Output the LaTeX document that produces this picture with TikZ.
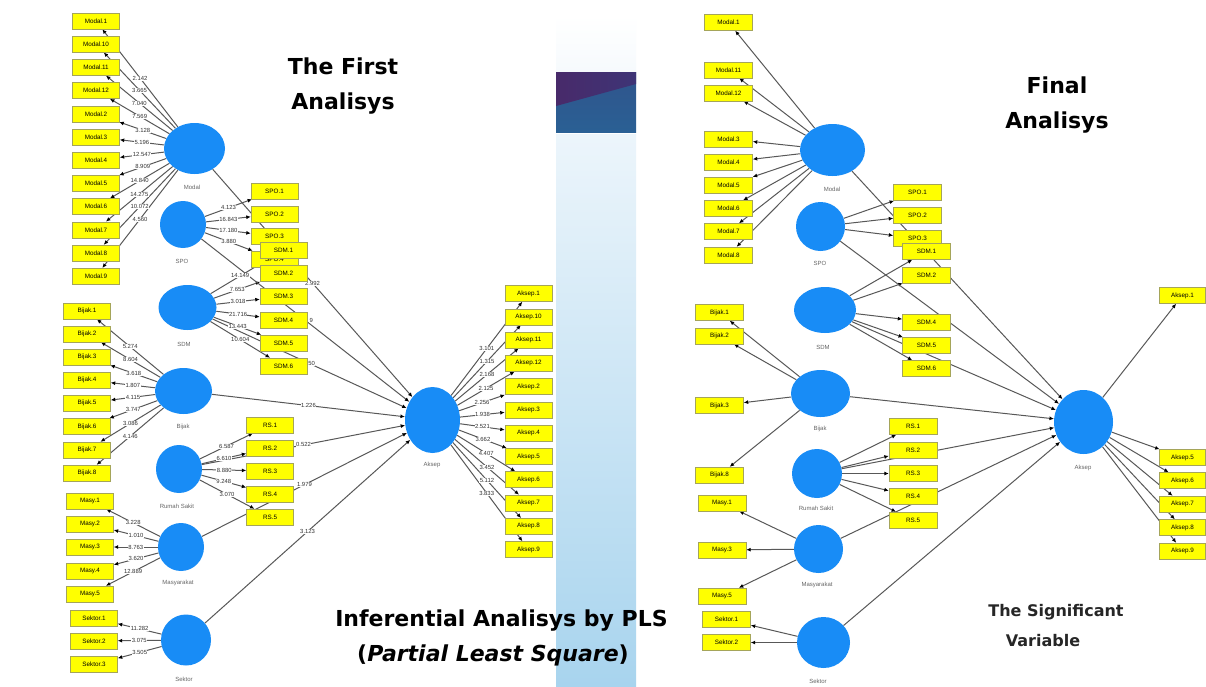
\documentclass[tikz,border=0pt]{standalone}
\usepackage{fontspec}
\setmainfont{Liberation Sans}
\newfontfamily\djv{DejaVu Sans}
\usetikzlibrary{shapes.geometric,arrows.meta,calc}
\pgfdeclarelayer{bg}
\pgfdeclarelayer{edges}
\pgfdeclarelayer{labs}
\pgfsetlayers{bg,edges,labs,main}
\definecolor{lvblue}{RGB}{24,140,246}
\definecolor{boxyellow}{RGB}{255,255,0}
\definecolor{boxedge}{RGB}{165,165,90}
\definecolor{linegray}{RGB}{88,88,88}
\definecolor{barlight}{RGB}{246,250,253}
\definecolor{bartop}{RGB}{236,245,251}
\definecolor{barbot}{RGB}{168,212,238}
\definecolor{bandpurple}{RGB}{72,42,106}
\definecolor{bandpurpleb}{RGB}{62,52,118}
\definecolor{bandblue}{RGB}{42,96,148}
\definecolor{bandblueb}{RGB}{48,84,140}
\tikzset{
  indl/.style={draw=boxedge, fill=boxyellow, line width=0.4pt, minimum width=47pt, minimum height=16pt, inner sep=0pt, font=\fontsize{6.3}{7}\selectfont},
  indr/.style={indl, minimum width=48pt},
  lv/.style={ellipse, fill=lvblue, inner sep=0pt},
  lvlab/.style={font=\fontsize{6}{7}\selectfont, text=black!60, inner sep=0pt},
  conn/.style={draw=linegray, line width=1pt, -{Latex[length=4.5pt,width=4pt,color=black]}},
  wl/.style={fill=white, inner sep=0.4pt, font=\fontsize{5.9}{6}\selectfont, text=black!80},
  bigtitle/.style={font=\djv\bfseries\fontsize{22}{26}\selectfont, anchor=base, inner sep=0pt},
  midtitle/.style={font=\djv\bfseries\fontsize{16}{19}\selectfont, anchor=base, inner sep=0pt, text=black!85},
}
\begin{document}
\begin{tikzpicture}[x=1pt,y=-1pt]
\useasboundingbox (0,0) rectangle (1206,686);
\begin{pgfonlayer}{bg}
\fill[white] (0,0) rectangle (1206,686);
\shade[top color=white, bottom color=barlight] (556,15) rectangle (636,72);
\shade[top color=bandblueb, bottom color=bandblue] (556,72) rectangle (636,132);
\shade[left color=bandpurple, right color=bandpurpleb] (556,72) -- (636,72) -- (636,84) -- (556,106) -- cycle;
\shade[top color=bartop, bottom color=barbot] (556,134) rectangle (636,686);
\end{pgfonlayer}

% ================= LEFT PANEL =================
\node[lv, minimum width=61pt, minimum height=51pt] (Lmodal) at (194.5,148.5) {};
\node[lv, minimum width=46pt, minimum height=47pt] (Lspo) at (183,224.5) {};
\node[lv, minimum width=58pt, minimum height=45pt] (Lsdm) at (187.5,307.5) {};
\node[lv, minimum width=57pt, minimum height=46pt] (Lbijak) at (183.5,391) {};
\node[lv, minimum width=46pt, minimum height=48pt] (Lrs) at (179,469) {};
\node[lv, minimum width=46pt, minimum height=48pt] (Lmasy) at (181,547) {};
\node[lv, minimum width=50pt, minimum height=51pt] (Lsek) at (186,640) {};
\node[lv, minimum width=55pt, minimum height=66pt] (Laksep) at (432.5,420) {};

\node[lvlab] (LtModal) at (192,187) {Modal};
\node[lvlab] (LtSpo) at (182,261) {SPO};
\node[lvlab] (LtSdm) at (184,344) {SDM};
\node[lvlab] (LtBijak) at (183,427) {Bijak};
\node[lvlab] (LtRs) at (177,506) {Rumah Sakit};
\node[lvlab] (LtMasy) at (178,583) {Masyarakat};
\node[lvlab] (LtSek) at (184,679) {Sektor};
\node[lvlab] (LtAksep) at (432,465) {Aksep};

\foreach \n/\t/\y in {m1/Modal.1/21,m10/Modal.10/44.2,m11/Modal.11/67.4,m12/Modal.12/90.6,m2/Modal.2/113.8,m3/Modal.3/137,m4/Modal.4/160.2,m5/Modal.5/183.4,m6/Modal.6/206.6,m7/Modal.7/229.8,m8/Modal.8/253,m9/Modal.9/276.2}
  \node[indl] (L\n) at (96,\y) {\t};
\foreach \n/\t/\y in {s1/SPO.1/191,s2/SPO.2/214,s3/SPO.3/236.5,s4/SPO.4/259}
  \node[indl] (L\n) at (274.5,\y) {\t};
\foreach \n/\t/\y in {d1/SDM.1/250,d2/SDM.2/273.5,d3/SDM.3/296.5,d4/SDM.4/320,d5/SDM.5/343,d6/SDM.6/366}
  \node[indl] (L\n) at (283.5,\y) {\t};
\foreach \n/\t/\y in {b1/Bijak.1/311,b2/Bijak.2/334,b3/Bijak.3/357,b4/Bijak.4/380,b5/Bijak.5/403,b6/Bijak.6/426.5,b7/Bijak.7/450,b8/Bijak.8/473}
  \node[indl] (L\n) at (87,\y) {\t};
\foreach \n/\t/\y in {r1/RS.1/425,r2/RS.2/448,r3/RS.3/471,r4/RS.4/494,r5/RS.5/517}
  \node[indl] (L\n) at (270,\y) {\t};
\foreach \n/\t/\y in {y1/Masy.1/501,y2/Masy.2/524,y3/Masy.3/547,y4/Masy.4/571,y5/Masy.5/594}
  \node[indl] (L\n) at (90,\y) {\t};
\foreach \n/\t/\y in {k1/Sektor.1/618,k2/Sektor.2/641,k3/Sektor.3/664.5}
  \node[indl] (L\n) at (94,\y) {\t};
\foreach \n/\t/\y in {a1/Aksep.1/293.5,a10/Aksep.10/316.8,a11/Aksep.11/340,a12/Aksep.12/363.3,a2/Aksep.2/386.6,a3/Aksep.3/409.8,a4/Aksep.4/433.1,a5/Aksep.5/456.4,a6/Aksep.6/479.6,a7/Aksep.7/502.9,a8/Aksep.8/526.2,a9/Aksep.9/549.5}
  \node[indl] (L\n) at (528.5,\y) {\t};

\begin{pgfonlayer}{edges}
\foreach \n in {m1,m10,m11,m12,m2,m3,m4,m5,m6,m7,m8,m9} \draw[conn] (Lmodal) -- (L\n);
\foreach \n in {s1,s2,s3,s4} \draw[conn] (Lspo) -- (L\n);
\foreach \n in {d1,d2,d3,d4,d5,d6} \draw[conn] (Lsdm) -- (L\n);
\foreach \n in {b1,b2,b3,b4,b5,b6,b7,b8} \draw[conn] (Lbijak) -- (L\n);
\foreach \n in {r1,r2,r3,r4,r5} \draw[conn] (Lrs) -- (L\n);
\foreach \n in {y1,y2,y3,y4,y5} \draw[conn] (Lmasy) -- (L\n);
\foreach \n in {k1,k2,k3} \draw[conn] (Lsek) -- (L\n);
\foreach \n in {a1,a10,a11,a12,a2,a3,a4,a5,a6,a7,a8,a9} \draw[conn] (Laksep) -- (L\n);
\foreach \s in {Lmodal,Lspo,Lsdm,Lbijak,Lrs,Lmasy,Lsek} \draw[conn] (\s) -- (Laksep);
\end{pgfonlayer}

\begin{pgfonlayer}{labs}
\foreach \n/\w in {m1/2.142,m10/3.665,m11/7.040,m12/7.569,m2/3.128,m3/5.196,m4/12.547,m5/8.909,m6/14.840,m7/14.275,m8/10.072,m9/4.560}
  \path (Lmodal) -- node[wl]{\w} (L\n);
\foreach \n/\w in {s1/4.123,s2/16.843,s3/17.180,s4/3.880}
  \path (Lspo) -- node[wl]{\w} (L\n);
\foreach \n/\w in {d1/14.149,d2/7.653,d3/3.018,d4/21.716,d5/13.443,d6/10.604}
  \path (Lsdm) -- node[wl]{\w} (L\n);
\foreach \n/\w in {b1/5.274,b2/8.604,b3/3.618,b4/1.807,b5/4.115,b6/3.747,b7/3.086,b8/4.146}
  \path (Lbijak) -- node[wl]{\w} (L\n);
\foreach \n/\w in {r1/6.587,r2/6.610,r3/8.880,r4/9.248,r5/3.070}
  \path (Lrs) -- node[wl]{\w} (L\n);
\foreach \n/\w in {y1/3.228,y2/1.010,y3/8.763,y4/3.620,y5/12.889}
  \path (Lmasy) -- node[wl]{\w} (L\n);
\foreach \n/\w in {k1/11.282,k2/3.075,k3/3.505}
  \path (Lsek) -- node[wl]{\w} (L\n);
\foreach \n/\w in {a1/3.101,a10/1.315,a11/2.168,a12/2.125,a2/2.256,a3/1.938,a4/2.521,a5/3.662,a6/4.407,a7/3.452,a8/5.112,a9/3.833}
  \path (Laksep) -- node[wl]{\w} (L\n);
\path (Lmodal) -- node[wl]{2.992} (Laksep);
\path (Lspo) -- node[wl,xshift=6pt]{9} (Laksep);
\path (Lsdm) -- node[wl,xshift=2pt]{50} (Laksep);
\path (Lbijak) -- node[wl]{1.226} (Laksep);
\path (Lrs) -- node[wl]{0.522} (Laksep);
\path (Lmasy) -- node[wl]{1.979} (Laksep);
\path (Lsek) -- node[wl]{3.123} (Laksep);
\end{pgfonlayer}

% ================= RIGHT PANEL =================
\node[lv, minimum width=65pt, minimum height=52pt] (Rmodal) at (832.5,150) {};
\node[lv, minimum width=49pt, minimum height=49pt] (Rspo) at (820.5,226.5) {};
\node[lv, minimum width=62pt, minimum height=46pt] (Rsdm) at (825,310) {};
\node[lv, minimum width=59pt, minimum height=47pt] (Rbijak) at (820.5,393.5) {};
\node[lv, minimum width=50pt, minimum height=49pt] (Rrs) at (817,473.5) {};
\node[lv, minimum width=49pt, minimum height=48pt] (Rmasy) at (818.5,549) {};
\node[lv, minimum width=53pt, minimum height=51pt] (Rsek) at (823.5,642.5) {};
\node[lv, minimum width=59pt, minimum height=64pt] (Raksep) at (1083.5,422) {};

\node[lvlab] (RtModal) at (832,189) {Modal};
\node[lvlab] (RtSpo) at (820,263) {SPO};
\node[lvlab] (RtSdm) at (823,347) {SDM};
\node[lvlab] (RtBijak) at (820,429) {Bijak};
\node[lvlab] (RtRs) at (816,508) {Rumah Sakit};
\node[lvlab] (RtMasy) at (817,585) {Masyarakat};
\node[lvlab] (RtSek) at (818,681) {Sektor};
\node[lvlab] (RtAksep) at (1083,468) {Aksep};

\foreach \n/\t/\y in {m1/Modal.1/22.5,m11/Modal.11/70,m12/Modal.12/93,m3/Modal.3/139,m4/Modal.4/162,m5/Modal.5/185,m6/Modal.6/208.5,m7/Modal.7/231.5,m8/Modal.8/255}
  \node[indr] (R\n) at (728.5,\y) {\t};
\foreach \n/\t/\y in {s1/SPO.1/192.5,s2/SPO.2/215.5,s3/SPO.3/238.5}
  \node[indr] (R\n) at (917.5,\y) {\t};
\foreach \n/\t/\y in {d1/SDM.1/251.5,d2/SDM.2/275,d4/SDM.4/322,d5/SDM.5/345.5,d6/SDM.6/368.5}
  \node[indr] (R\n) at (926.5,\y) {\t};
\foreach \n/\t/\y in {b1/Bijak.1/312.5,b2/Bijak.2/336,b3/Bijak.3/405.5,b8/Bijak.8/475}
  \node[indr] (R\n) at (719.5,\y) {\t};
\foreach \n/\t/\y in {r1/RS.1/426.5,r2/RS.2/450,r3/RS.3/473.5,r4/RS.4/496.5,r5/RS.5/520}
  \node[indr] (R\n) at (913,\y) {\t};
\foreach \n/\t/\y in {y1/Masy.1/503,y3/Masy.3/550,y5/Masy.5/596}
  \node[indr] (R\n) at (722,\y) {\t};
\foreach \n/\t/\y in {k1/Sektor.1/619.5,k2/Sektor.2/642.5}
  \node[indr] (R\n) at (726.5,\y) {\t};
\foreach \n/\t/\y in {a1/Aksep.1/295.5,a5/Aksep.5/457.5,a6/Aksep.6/480.5,a7/Aksep.7/504,a8/Aksep.8/527.5,a9/Aksep.9/551}
  \node[indl, minimum width=46pt] (R\n) at (1182.5,\y) {\t};

\begin{pgfonlayer}{edges}
\foreach \n in {m1,m11,m12,m3,m4,m5,m6,m7,m8} \draw[conn] (Rmodal) -- (R\n);
\foreach \n in {s1,s2,s3} \draw[conn] (Rspo) -- (R\n);
\foreach \n in {d1,d2,d4,d5,d6} \draw[conn] (Rsdm) -- (R\n);
\foreach \n in {b1,b2,b3,b8} \draw[conn] (Rbijak) -- (R\n);
\foreach \n in {r1,r2,r3,r4,r5} \draw[conn] (Rrs) -- (R\n);
\foreach \n in {y1,y3,y5} \draw[conn] (Rmasy) -- (R\n);
\foreach \n in {k1,k2} \draw[conn] (Rsek) -- (R\n);
\foreach \n in {a1,a5,a6,a7,a8,a9} \draw[conn] (Raksep) -- (R\n);
\foreach \s in {Rmodal,Rspo,Rsdm,Rbijak,Rrs,Rmasy,Rsek} \draw[conn] (\s) -- (Raksep);
\end{pgfonlayer}

% ================= TITLES =================
\node[bigtitle] (t1a) at (343,74) {The First};
\node[bigtitle] (t1b) at (343,109) {Analisys};
\node[bigtitle] (t2a) at (1057,93) {Final};
\node[bigtitle] (t2b) at (1057,128) {Analisys};
\node[bigtitle] (t3a) at (501.5,626) {Inferential Analisys by PLS};
\node[bigtitle] (t3b) at (493,661) {(\textit{Partial Least Square})};
\node[midtitle] (t4a) at (1056,616) {The Significant};
\node[midtitle] (t4b) at (1043,646) {Variable};
\end{tikzpicture}
\end{document}
